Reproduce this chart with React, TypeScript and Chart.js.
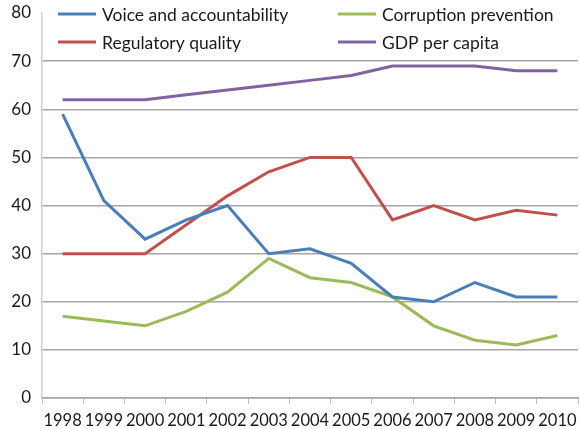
import React, { useEffect, useRef } from "react";
import { Chart, registerables } from "chart.js";

Chart.register(...registerables);

const years = ["1998", "1999", "2000", "2001", "2002", "2003", "2004", "2005", "2006", "2007", "2008", "2009", "2010"];
const voiceAccountability = [59, 41, 33, 37, 40, 30, 31, 28, 21, 20, 24, 21, 21];
const regulatoryQuality = [30, 30, 30, 36, 42, 47, 50, 50, 37, 40, 37, 39, 38];
const corruptionPrevention = [17, 16, 15, 18, 22, 29, 25, 24, 21, 15, 12, 11, 13];
const gdpPerCapita = [62, 62, 62, 63, 64, 65, 66, 67, 69, 69, 69, 68, 68];
const seriesNames = ["Voice and accountability", "Regulatory quality", "Corruption prevention", "GDP per capita"];
const yTicks = [0, 10, 20, 30, 40, 50, 60, 70, 80];

const FONT = "Lato, 'Open Sans', sans-serif";

const legendPlugin = {
  id: "gridLegend",
  afterDraw(chart: any) {
    const { ctx, chartArea } = chart;
    const ds = chart.data.datasets;
    const layout = [
      { i: 0, col: 0, row: 0 },
      { i: 2, col: 1, row: 0 },
      { i: 1, col: 0, row: 1 },
      { i: 3, col: 1, row: 1 },
    ];
    const colX = [chartArea.left + 16, chartArea.left + 296];
    const rowY = [14, 42];
    ctx.save();
    ctx.font = `17.5px ${FONT}`;
    ctx.textBaseline = "middle";
    ctx.textAlign = "left";
    for (const item of layout) {
      const d = ds[item.i];
      const x = colX[item.col];
      const y = rowY[item.row];
      ctx.strokeStyle = d.borderColor;
      ctx.lineWidth = 3;
      ctx.beginPath();
      ctx.moveTo(x, y);
      ctx.lineTo(x + 38, y);
      ctx.stroke();
      ctx.fillStyle = "#1a1a1a";
      ctx.fillText(d.label, x + 44, y + 1);
    }
    ctx.restore();
  },
};

export default function App() {
  const ref = useRef<HTMLCanvasElement>(null);
  useEffect(() => {
    document.body.style.margin = "0";
    const canvas = ref.current!;
    const mk = (label: string, data: number[], color: string) => ({
      label,
      data,
      borderColor: color,
      backgroundColor: color,
      borderWidth: 3,
      pointRadius: 0,
      tension: 0,
      fill: false,
    });
    const chart = new Chart(canvas, {
      type: "line",
      data: {
        labels: years,
        datasets: [
          mk(seriesNames[0], voiceAccountability, "#4a7ebb"),
          mk(seriesNames[1], regulatoryQuality, "#c0504d"),
          mk(seriesNames[2], corruptionPrevention, "#9bbb59"),
          mk(seriesNames[3], gdpPerCapita, "#8064a2"),
        ],
      },
      options: {
        responsive: false,
        animation: false,
        layout: { padding: { top: 13, right: 2, left: 0, bottom: 0 } },
        plugins: { legend: { display: false }, tooltip: { enabled: false } },
        scales: {
          x: {
            type: "category",
            offset: true,
            grid: {
              offset: true,
              drawOnChartArea: false,
              drawTicks: true,
              tickLength: 6,
              color: "#bdbdbd",
              lineWidth: 1,
            },
            border: { display: true, color: "#a6a6a6", width: 1.5 },
            ticks: {
              color: "#1a1a1a",
              font: { size: 16.5, family: FONT },
              padding: 7,
              maxRotation: 0,
              autoSkip: false,
            },
            afterFit(scale: any) {
              scale.height = 31;
              scale.paddingLeft = 0;
              scale.paddingRight = 0;
            },
          },
          y: {
            min: 0,
            max: 80,
            afterBuildTicks(scale: any) {
              scale.ticks = yTicks.map((v) => ({ value: v }));
            },
            grid: {
              color: (c: any) => (c.tick && c.tick.value === 80 ? "rgba(0,0,0,0)" : "#a6a6a6"),
              lineWidth: 1.5,
              drawTicks: false,
            },
            border: { display: true, color: "#d0d0d0", width: 1.5 },
            ticks: {
              color: "#1a1a1a",
              font: { size: 17, family: FONT },
              padding: 11,
            },
            afterFit(scale: any) {
              scale.width = 42;
              scale.paddingTop = 0;
              scale.paddingBottom = 0;
            },
          },
        },
      },
      plugins: [legendPlugin],
    });
    return () => chart.destroy();
  }, []);
  return <canvas ref={ref} width={580} height={429} style={{ display: "block" }} />;
}
